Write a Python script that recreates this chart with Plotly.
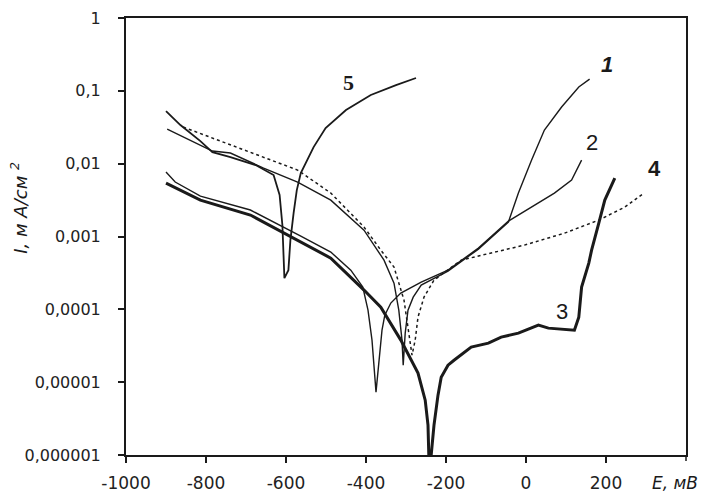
import math
import plotly.graph_objects as go

# ---- data ----
E1 = [-897, -839, -784, -739, -656, -571, -488, -405, -355, -330, -318, -310, -307,
      -302, -295, -282, -262, -195, -119, -44, -19, 14, 46, 89, 132, 159]
I1 = [0.0299, 0.0211, 0.0149, 0.0140, 0.0087, 0.00559, 0.00316, 0.00122, 0.000474, 0.000229,
      0.0000975, 0.0000378, 0.0000171,
      0.0000471, 0.0000975, 0.000147, 0.000215, 0.000335, 0.000671, 0.00158, 0.00395, 0.0112,
      0.029, 0.0599, 0.113, 0.145]

E2 = [-900, -877, -814, -689, -563, -488, -438, -408, -395, -385, -375,
      -368, -360, -353, -338, -313, -262, -195, -119, -44, 14, 71, 114, 139]
I2 = [0.00767, 0.00559, 0.00359, 0.00231, 0.00101, 0.000611, 0.000345, 0.000202, 0.0000975,
      0.0000378, 0.0000073,
      0.00002, 0.0000518, 0.0000832, 0.000122, 0.000167, 0.000237, 0.000345, 0.000693, 0.00163,
      0.00253, 0.00395, 0.00595, 0.0112]

E3 = [-900, -814, -689, -563, -488, -405, -363, -313, -270, -252, -245, -243, -237,
      -230, -220, -212, -195, -180, -137, -94, -62, -19, 31, 56, 121, 132, 139, 157, 164, 182, 197, 222]
I3 = [0.00542, 0.00316, 0.00197, 0.000838, 0.000505, 0.000184, 0.000107, 0.0000378, 0.0000133,
      0.00000566, 0.00000257, 0.000001, 0.000001,
      0.00000257, 0.00000663, 0.0000117, 0.0000171, 0.00002, 0.0000303, 0.0000343, 0.0000415,
      0.0000471, 0.0000607, 0.0000552, 0.0000518, 0.0000782, 0.000202, 0.000431, 0.00065,
      0.00153, 0.00316, 0.00634]

E4 = [-857, -772, -689, -606, -571, -488, -405, -363, -330, -305, -292, -285,
      -277, -270, -255, -230, -162, -87, -4, 96, 182, 247, 295]
I4 = [0.0318, 0.0211, 0.0144, 0.00957, 0.00817, 0.00395, 0.00135, 0.00065, 0.00038, 0.000134,
      0.0000471, 0.0000235,
      0.0000378, 0.0000782, 0.000147, 0.000252, 0.000474, 0.000592, 0.000762, 0.00111, 0.00168,
      0.00253, 0.00395]

E5 = [-900, -864, -814, -784, -739, -676, -631, -616, -609, -604,
      -594, -589, -581, -573, -563, -531, -501, -450, -388, -325, -275]
I5 = [0.0528, 0.0339, 0.0204, 0.0144, 0.0123, 0.00957, 0.00697, 0.00371, 0.00143, 0.000268,
      0.000345, 0.000893, 0.0021, 0.00434, 0.00743, 0.0169, 0.0308, 0.0545, 0.0876, 0.12, 0.15]

label_text = ["<b><i>1</i></b>", "2", "3", "<b>4</b>", "<b>5</b>"]
label_font = ["Liberation Sans", "Liberation Sans", "Liberation Sans", "Liberation Sans", "Liberation Serif"]
label_E = [202, 164, 89, 320, -443]
label_I = [0.23, 0.0198, 0.000092, 0.0087, 0.132]

x_ticks = [-1000, -800, -600, -400, -200, 0, 200]
x_ticktext = ["-1000", "-800", "-600", "-400", "-200", "0", "200"]
y_ticks = [1e-6, 1e-5, 1e-4, 1e-3, 1e-2, 1e-1, 1]
y_ticktext = ["0,000001", "0,00001", "0,0001", "0,001", "0,01", "0,1", "1"]

ink = "#1a1a1a"
fig = go.Figure()
fig.add_trace(go.Scatter(x=E1, y=I1, mode="lines", line=dict(color=ink, width=1.4)))
fig.add_trace(go.Scatter(x=E2, y=I2, mode="lines", line=dict(color=ink, width=1.4)))
fig.add_trace(go.Scatter(x=E4, y=I4, mode="lines", line=dict(color=ink, width=1.5, dash="dot")))
fig.add_trace(go.Scatter(x=E5, y=I5, mode="lines", line=dict(color=ink, width=1.8)))
fig.add_trace(go.Scatter(x=E3, y=I3, mode="lines", line=dict(color=ink, width=3)))

for t, fam, ex, iy in zip(label_text, label_font, label_E, label_I):
    fig.add_annotation(x=ex, y=math.log10(iy), yref="y", xref="x", text=t,
                       showarrow=False, font=dict(family=fam, size=22, color=ink))

# x-axis name sits where the 400 label would be
fig.add_annotation(xref="paper", yref="paper", x=1.025, xanchor="right", y=-0.064, yanchor="middle",
                   text="<i>E, мВ</i>", showarrow=False,
                   font=dict(family="DejaVu Sans", size=17, color=ink))
fig.add_annotation(xref="paper", yref="paper", x=-0.19, y=0.565, xanchor="center", yanchor="middle",
                   textangle=-90, text="<i>I, м А/см <sup>2</sup></i>", showarrow=False,
                   font=dict(family="DejaVu Sans", size=18, color=ink))
# tick mark at E = 400 (right end of axis)
fig.add_shape(type="line", xref="paper", yref="paper", x0=1, x1=1, y0=0, y1=-0.014,
              line=dict(color=ink, width=1.5))

fig.update_layout(
    width=702, height=496, showlegend=False,
    paper_bgcolor="white", plot_bgcolor="white",
    margin=dict(l=126, r=16, t=18, b=41),
    font=dict(family="DejaVu Sans", size=16, color="#222"),
)
fig.update_xaxes(range=[-1000, 400], tickmode="array", tickvals=x_ticks, ticktext=x_ticktext,
                 showgrid=False, zeroline=False, showline=True, linecolor=ink, linewidth=2,
                 mirror=True, ticks="outside", ticklen=6, tickwidth=1.5, tickcolor=ink,
                 ticklabelstandoff=6, automargin=False, tickfont=dict(size=17))
fig.update_yaxes(type="log", range=[-6, 0], tickmode="array", tickvals=y_ticks, ticktext=y_ticktext,
                 showgrid=False, zeroline=False, showline=True, linecolor=ink, linewidth=2,
                 mirror=True, ticks="outside", ticklen=6, tickwidth=1.5, tickcolor=ink,
                 ticklabelstandoff=14, automargin=False)

fig.write_html("out.html", config={"displayModeBar": False},
               post_script="document.body.style.margin='0';document.body.style.overflow='hidden';")
